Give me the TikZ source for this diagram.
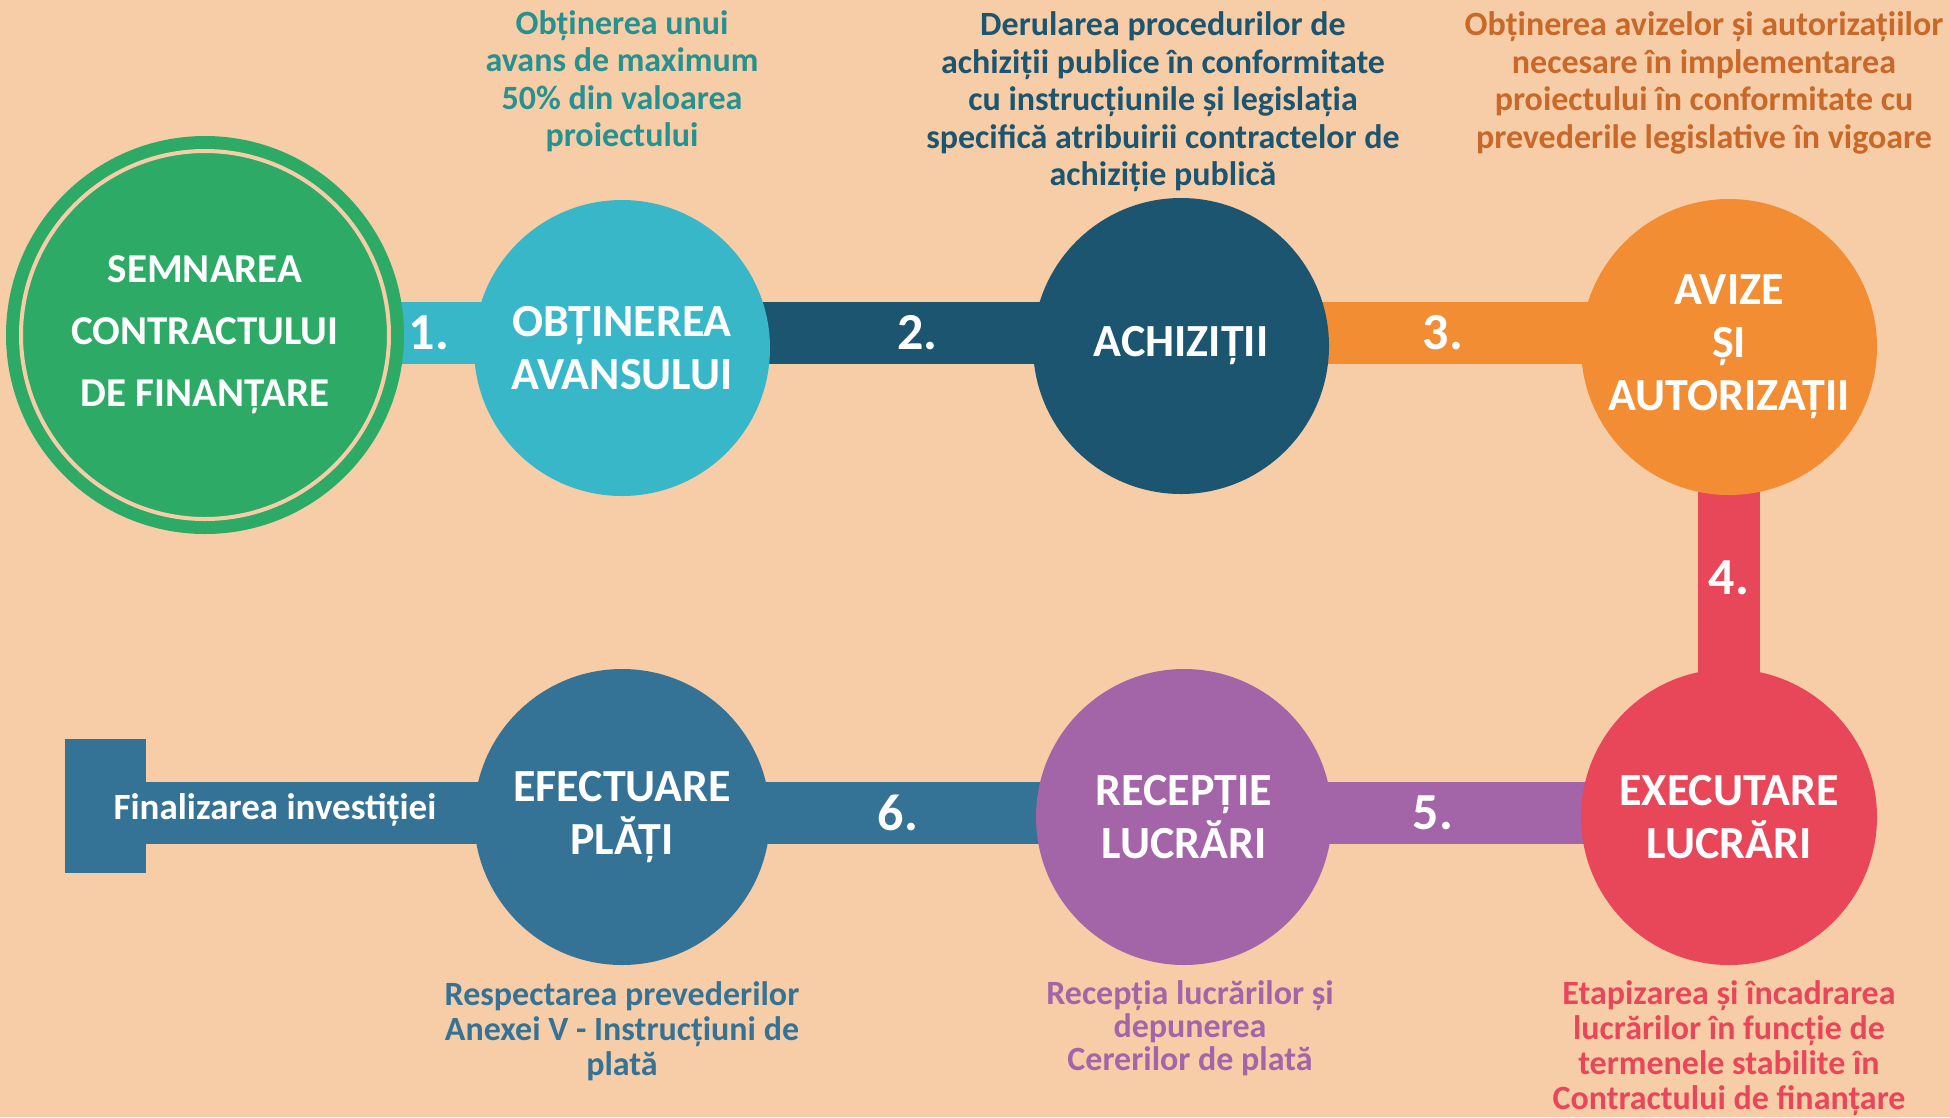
\documentclass[tikz,border=0pt]{standalone}
\usepackage{fontspec}
\setmainfont{Carlito}
\usetikzlibrary{positioning,backgrounds}
\definecolor{peach}{HTML}{F7CDA8}
\definecolor{stepgreen}{HTML}{2EAA67}
\definecolor{stepteal}{HTML}{38B7C9}
\definecolor{stepnavy}{HTML}{1B5570}
\definecolor{steporange}{HTML}{F28D33}
\definecolor{stepred}{HTML}{E84759}
\definecolor{steppurple}{HTML}{A365A8}
\definecolor{stepsteel}{HTML}{347396}
\definecolor{tealtext}{HTML}{26918F}
\definecolor{orangetext}{HTML}{C8692A}

\begin{document}
\begin{tikzpicture}[x=1pt,y=-1pt,
  every node/.style={align=center,inner sep=0pt},
  stepcirc/.style={circle,minimum size=296pt,text=white,font=\fontsize{46}{53}\selectfont\bfseries},
  bar/.style={line width=62pt},
  num/.style={text=white,font=\fontsize{52}{52}\selectfont\bfseries},
  desc/.style={font=\fontsize{34}{37.5}\selectfont\bfseries},
  descsm/.style={font=\fontsize{34}{35}\selectfont\bfseries}]
\begin{scope}[on background layer]
\fill[peach] (0,0) rectangle (1950,1117);
\end{scope}
\useasboundingbox (0,0) rectangle (1950,1117);
\coordinate (rowtop) at (0,333);
\coordinate (rowbot) at (0,813);
% circles
\node[circle,fill=stepgreen,minimum size=398pt,text=white,font=\fontsize{41}{62}\selectfont\bfseries] (semn) at (205,335) {SEMNAREA\\CONTRACTULUI\\DE FINANȚARE};
\draw[peach,line width=4pt] (semn.center) circle (184);
\node[stepcirc,fill=stepteal] (avans) at (622,348) {OBȚINEREA\\AVANSULUI};
\node[stepcirc,fill=stepnavy] (achiz) at (1181,346) {ACHIZIȚII};
\node[stepcirc,fill=steporange] (avize) at (1729,347) {AVIZE\\ȘI\\AUTORIZAȚII};
\node[stepcirc,fill=stepred] (exec) at (1729,817) {EXECUTARE\\LUCRĂRI};
\node[stepcirc,fill=steppurple] (recep) at (1184,817) {RECEPȚIE\\LUCRĂRI};
\node[stepcirc,fill=stepsteel] (efect) at (622,817) {EFECTUARE\\PLĂȚI};
\node[fill=stepsteel,minimum width=81pt,minimum height=134pt] (endsq) at (105.5,806) {};
% bars
\begin{scope}[on background layer]
\draw[bar,stepteal] (semn |- rowtop) -- node[num,pos=0.537]{1.} (avans |- rowtop);
\draw[bar,stepnavy] (avans |- rowtop) -- node[num,pos=0.528]{2.} (achiz |- rowtop);
\draw[bar,steporange] (achiz |- rowtop) -- node[num,pos=0.478]{3.} (avize |- rowtop);
\draw[bar,stepred] (avize.center) -- node[num,pos=0.491]{4.} (exec.center);
\draw[bar,steppurple] (exec |- rowbot) -- node[num,pos=0.543]{5.} (recep |- rowbot);
\draw[bar,stepsteel] (recep |- rowbot) -- node[num,pos=0.509]{6.} (efect |- rowbot);
\draw[bar,stepsteel] (efect |- rowbot) -- (endsq |- rowbot);
\end{scope}
\node[text=white,font=\fontsize{37}{37}\selectfont\bfseries] (final) at (275,810) {Finalizarea investiției};
% descriptions
\node[desc,text=tealtext] (descavans) at (622,81) {Obținerea unui\\avans de maximum\\50\% din valoarea\\proiectului};
\node[desc,text=stepnavy] (descachiz) at (1163,102) {Derularea procedurilor de\\achiziții publice în conformitate\\cu instrucțiunile și legislația\\specifică atribuirii contractelor de\\achiziție publică};
\node[desc,text=orangetext] (descavize) at (1704,83) {Obținerea avizelor și autorizațiilor\\necesare în implementarea\\proiectului în conformitate cu\\prevederile legislative în vigoare};
\node[descsm,text=stepsteel] (descefect) at (622,1031) {Respectarea prevederilor\\Anexei V - Instrucțiuni de\\plată};
\node[text=steppurple,font=\fontsize{34}{33}\selectfont\bfseries] (descrecep) at (1190,1028) {Recepția lucrărilor și\\depunerea\\Cererilor de plată};
\node[descsm,text=stepred] (descexec) at (1729,1048) {Etapizarea și încadrarea\\lucrărilor în funcție de\\termenele stabilite în\\Contractului de finanțare};
\end{tikzpicture}
\end{document}
